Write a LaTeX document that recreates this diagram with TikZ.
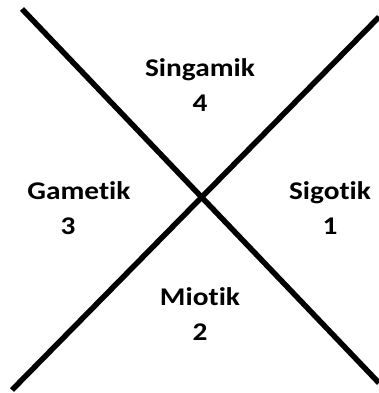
\documentclass[tikz,border=0pt]{standalone}
\usepackage{fontspec}
\usepackage{graphicx}
\setmainfont{Carlito}[Ligatures=NoCommon]
\newcommand\hstretch[1]{\scalebox{1.15}[1]{#1}}
\begin{document}
\begin{tikzpicture}[x=1pt,y=1pt,
  crossline/.style={line width=5.5pt,black},
  lbl/.style={font=\bfseries\fontsize{25.5}{35}\selectfont,align=center,inner sep=0pt}]
\useasboundingbox (0,0) rectangle (379,393);
\coordinate (a1) at (22,384);
\coordinate (a2) at (379,10);
\coordinate (b1) at (12,3);
\coordinate (b2) at (379,376);
\draw[crossline] (a1) -- (a2);
\draw[crossline] (b1) -- (b2);
\node[lbl] (top) at (200,308) {\hstretch{Singamik}\\\hstretch{4}};
\node[lbl] (left) at (79,185) {\hstretch{Gametik}\\\hstretch{3}\hspace*{22pt}};
\node[lbl] (right) at (330,185) {\hstretch{Sigotik}\\\hstretch{1}};
\node[lbl] (bottom) at (200,79) {\hstretch{Miotik}\\\hstretch{2}};
\end{tikzpicture}
\end{document}
